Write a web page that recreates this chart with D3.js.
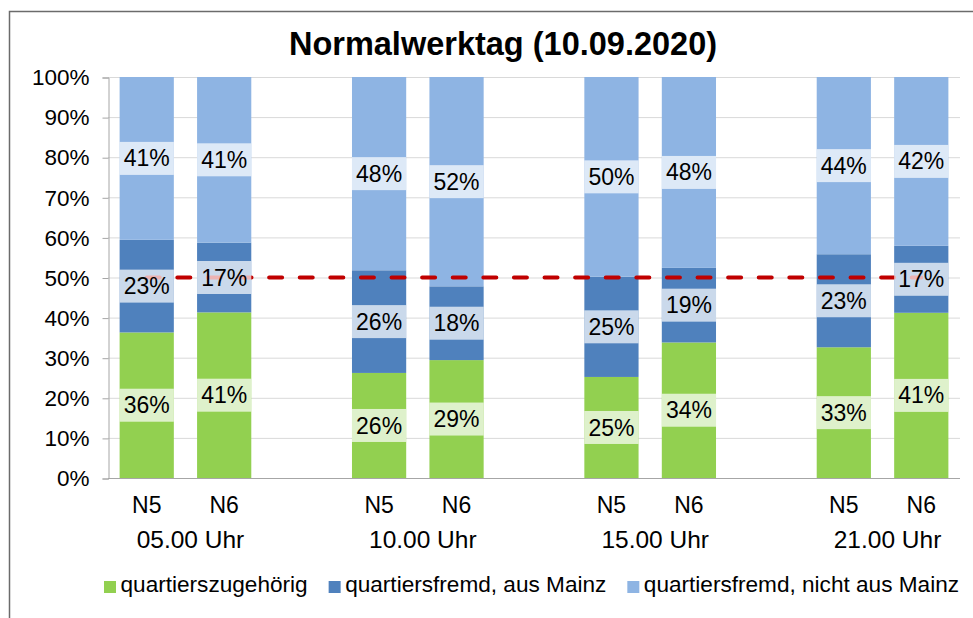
<!DOCTYPE html>
<html>
<head>
<meta charset="utf-8">
<script src="https://cdn.jsdelivr.net/npm/d3@7"></script>
<style>
  body { margin: 0; background: #fff; }
  text { font-family: "Liberation Sans", Arial, sans-serif; fill: #000; }
</style>
</head>
<body>
<div id="chart"></div>
<script>

// data (percent)
var times = ["05.00 Uhr", "10.00 Uhr", "15.00 Uhr", "21.00 Uhr"];
var places = ["N5", "N6"];
var seriesNames = ["quartierszugehörig", "quartiersfremd, aus Mainz", "quartiersfremd, nicht aus Mainz"];
var zugehoerig = [36.3, 41.3, 26.2, 29.4, 25.2, 33.8, 32.6, 41.2];
var ausMainz   = [23.1, 17.4, 25.6, 18.4, 25.0, 18.6, 23.2, 16.7];
var nichtMainz = [40.6, 41.3, 48.2, 52.2, 49.8, 47.6, 44.2, 42.1];
var yTicks = [0, 10, 20, 30, 40, 50, 60, 70, 80, 90, 100];
var refLine = 50;
var title = "Normalwerktag (10.09.2020)";

var colors = ["#92d050", "#4f81bd", "#8eb4e3"];

var W = 973, H = 618;
var plotLeft = 108, plotRight = 960, plotTop = 77, plotBottom = 478;

// build rows, one per bar, with gap slots between the time groups
var rows = [];
var slots = [];
times.forEach(function(t, i) {
  places.forEach(function(p, j) {
    var k = i * 2 + j;
    var key = t + "|" + p;
    rows.push({key: key, time: t, place: p, s0: zugehoerig[k], s1: ausMainz[k], s2: nichtMainz[k]});
    slots.push(key);
  });
  if (i < times.length - 1) slots.push("gap" + i);
});

var svg = d3.select("#chart").append("svg")
    .attr("width", W)
    .attr("height", H);

// outer frame
svg.append("rect")
    .attr("x", 9.5).attr("y", 11.5)
    .attr("width", 1000).attr("height", 700)
    .style("fill", "none")
    .style("stroke", "#6b6b6b")
    .style("stroke-width", 1.5);

var x = d3.scaleBand().domain(slots).range([plotLeft, plotRight]).paddingInner(0.3).paddingOuter(0.15);
var y = d3.scaleLinear().domain([0, 100]).range([plotBottom, plotTop]);

// gridlines
svg.append("g").selectAll("line").data(yTicks.slice(1)).enter().append("line")
    .attr("x1", plotLeft).attr("x2", plotRight)
    .attr("y1", function(d){ return y(d) + 0.5; })
    .attr("y2", function(d){ return y(d) + 0.5; })
    .style("stroke", "#d9d9d9").style("stroke-width", 1);

// y axis
var yAxis = svg.append("g")
    .attr("transform", "translate(" + (plotLeft + 0.5) + ",0.5)")
    .call(d3.axisLeft(y).tickValues(yTicks).tickFormat(function(d){ return d + "%"; }).tickSize(6).tickPadding(13));
yAxis.select(".domain").style("stroke", "#a6a6a6");
yAxis.selectAll(".tick line").style("stroke", "#a6a6a6");
yAxis.selectAll("text").style("font-size", "22.5px").style("font-family", "Liberation Sans, Arial, sans-serif").attr("fill", "#000");

// x axis baseline
svg.append("line")
    .attr("x1", plotLeft).attr("x2", plotRight)
    .attr("y1", plotBottom + 0.5).attr("y2", plotBottom + 0.5)
    .style("stroke", "#a6a6a6").style("stroke-width", 1);

// stacked bars
var stack = d3.stack().keys(["s0", "s1", "s2"]);
var layers = stack(rows);

var layerG = svg.append("g").selectAll("g").data(layers).enter().append("g")
    .style("fill", function(d, i){ return colors[i]; });

layerG.selectAll("rect").data(function(d){ return d; }).enter().append("rect")
    .attr("x", function(d){ return x(d.data.key); })
    .attr("width", x.bandwidth())
    .attr("y", function(d){ return y(d[1]); })
    .attr("height", function(d){ return y(d[0]) - y(d[1]); });

// red dashed reference line, from first to last bar centre
var firstKey = rows[0].key, lastKey = rows[rows.length - 1].key;
svg.append("line")
    .attr("x1", x(firstKey) + x.bandwidth() / 2)
    .attr("x2", x(lastKey) + x.bandwidth() / 2)
    .attr("y1", y(refLine)).attr("y2", y(refLine))
    .style("stroke", "#c00000")
    .style("stroke-width", 4)
    .style("stroke-linecap", "round")
    .style("stroke-dasharray", "13,17.6");

// value labels with pale boxes
var labelG = svg.append("g");
layers.forEach(function(layer) {
  layer.forEach(function(d) {
    var cy = y((d[0] + d[1]) / 2);
    labelG.append("rect")
        .attr("x", x(d.data.key))
        .attr("width", x.bandwidth())
        .attr("y", cy - 16.5)
        .attr("height", 33)
        .style("fill", "#fff")
        .style("fill-opacity", 0.7);
    labelG.append("text")
        .attr("x", x(d.data.key) + x.bandwidth() / 2)
        .attr("y", cy)
        .attr("dy", "0.35em")
        .attr("text-anchor", "middle")
        .style("font-size", "23px")
        .text(Math.round(d[1] - d[0]) + "%");
  });
});

// category labels
svg.append("g").selectAll("text").data(rows).enter().append("text")
    .attr("x", function(d){ return x(d.key) + x.bandwidth() / 2; })
    .attr("y", 513)
    .attr("text-anchor", "middle")
    .style("font-size", "23px")
    .text(function(d){ return d.place; });

svg.append("g").selectAll("text").data(times).enter().append("text")
    .attr("x", function(t){
      var a = x(t + "|" + places[0]), b = x(t + "|" + places[1]) + x.bandwidth();
      return (a + b) / 2 + 5;
    })
    .attr("y", 548)
    .attr("text-anchor", "middle")
    .style("font-size", "24.5px")
    .text(function(t){ return t; });

// title
svg.append("text")
    .attr("x", 503).attr("y", 55)
    .attr("text-anchor", "middle")
    .style("font-size", "32.5px")
    .style("font-weight", "bold")
    .text(title);

// legend
var lx = 104;
seriesNames.forEach(function(name, i) {
  svg.append("rect")
      .attr("x", lx).attr("y", 581)
      .attr("width", 12).attr("height", 12)
      .style("fill", colors[i]);
  var t = svg.append("text")
      .attr("x", lx + 16.5).attr("y", 592)
      .style("font-size", "22.6px")
      .text(name);
  lx += 16.5 + t.node().getComputedTextLength() + 21;
});

</script>
</body>
</html>
